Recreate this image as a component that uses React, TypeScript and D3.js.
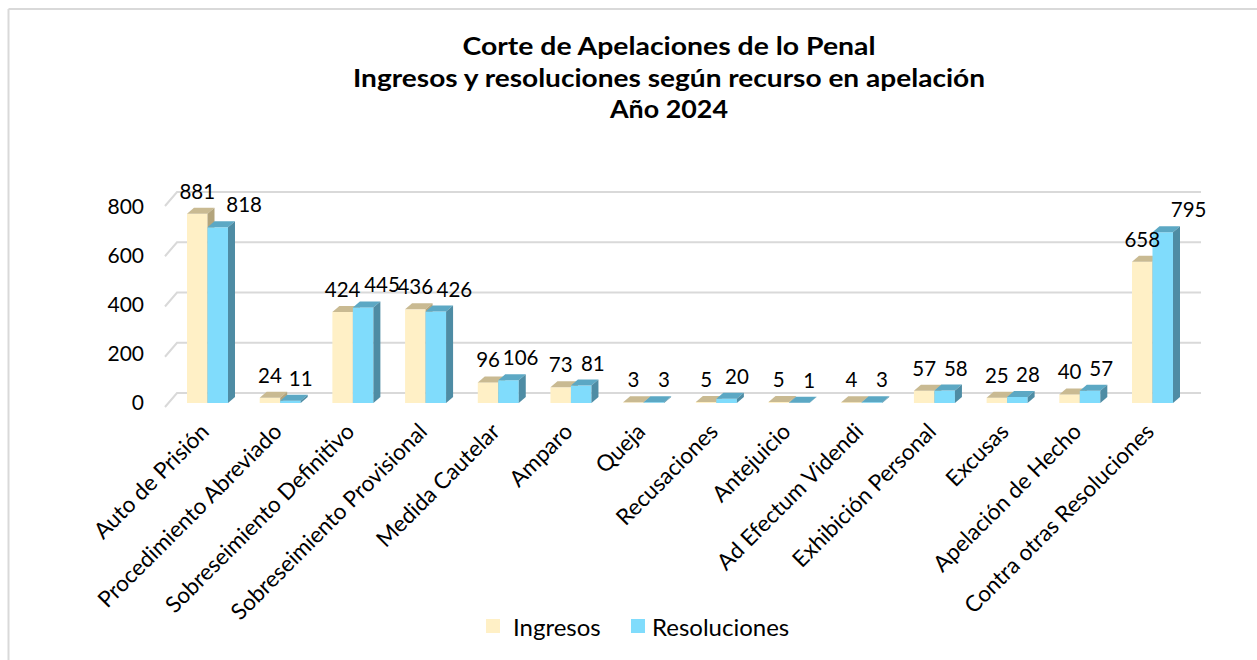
import React from "react";
import * as d3 from "d3";

const categories = [
  "Auto de Prisión",
  "Procedimiento Abreviado",
  "Sobreseimiento Definitivo",
  "Sobreseimiento Provisional",
  "Medida Cautelar",
  "Amparo",
  "Queja",
  "Recusaciones",
  "Antejuicio",
  "Ad Efectum Videndi",
  "Exhibición Personal",
  "Excusas",
  "Apelación de Hecho",
  "Contra otras Resoluciones",
];
const ingresos = [881, 24, 424, 436, 96, 73, 3, 5, 5, 4, 57, 25, 40, 658];
const resoluciones = [818, 11, 445, 426, 106, 81, 3, 20, 1, 3, 58, 28, 57, 795];
const yTicks = [0, 200, 400, 600, 800];
const seriesNames = ["Ingresos", "Resoluciones"];
const titleLines = [
  "Corte de Apelaciones de lo Penal",
  "Ingresos y resoluciones según recurso en apelación",
  "Año 2024",
];
const titleWidths = [413, 632, 118];

const W = 1257;
const H = 660;
const FONT = "Lato, 'Open Sans', sans-serif";

const colors = {
  ing: { front: "#FFF0C6", top: "#C9BA92", side: "#B3A47C" },
  res: { front: "#80DCFC", top: "#5CA8C4", side: "#4E8CA4" },
};

const DX = 7;
const DY = 6;
const BAR_W = 20.5;

export default function App() {
  const x = d3.scalePoint<string>().domain(categories).range([207.5, 1152.5]);
  const yBar = d3.scaleLinear().domain([0, 800]).range([403, 231.2]);
  const yLabel = d3.scaleLinear().domain([0, 800]).range([403, 207]);
  const yGrid = d3.scaleLinear().domain([0, 800]).range([393, 192]);

  const bar3d = (x0: number, v: number, c: { front: string; top: string; side: string }, key: string) => {
    const y0 = yBar(0);
    const y1 = yBar(v);
    const x1 = x0 + BAR_W;
    return (
      <g key={key}>
        <rect x={x0} y={y1} width={BAR_W} height={Math.max(0, y0 - y1)} fill={c.front} />
        <path
          d={`M${x0},${y1}L${x0 + DX},${y1 - DY}L${x1 + DX},${y1 - DY}L${x1},${y1}Z`}
          fill={c.top}
        />
        <path
          d={`M${x1},${y1}L${x1 + DX},${y1 - DY}L${x1 + DX},${y0 - DY}L${x1},${y0}Z`}
          fill={c.side}
        />
      </g>
    );
  };

  return (
    <div style={{ position: "absolute", left: 0, top: 0 }}>
      <svg width={W} height={H} style={{ display: "block", background: "#fff" }}>
        {/* frame */}
        <line x1={8.5} y1={9} x2={W} y2={9} stroke="#d9d9d9" strokeWidth={2} />
        <line x1={8.5} y1={9} x2={8.5} y2={H} stroke="#d9d9d9" strokeWidth={2} />

        {/* title */}
        {titleLines.map((t, i) => (
          <text
            key={t}
            x={669}
            y={55 + i * 31.5}
            textAnchor="middle"
            fontFamily={FONT}
            fontWeight="bold"
            fontSize={24}
            textLength={titleWidths[i]}
            lengthAdjust="spacingAndGlyphs"
            fill="#000"
          >
            {t}
          </text>
        ))}

        {/* gridlines on back wall */}
        {yTicks.map((t) => (
          <g key={t}>
            <path
              d={`M165,${yGrid(t) + 14}L177,${yGrid(t)}L1201,${yGrid(t)}`}
              fill="none"
              stroke="#d9d9d9"
              strokeWidth={2}
            />
            <text
              x={144}
              y={yLabel(t)}
              dy="0.35em"
              textAnchor="end"
              fontFamily={FONT}
              fontSize={21}
              fill="#000"
            >
              {t}
            </text>
          </g>
        ))}

        {/* bars */}
        {categories.map((c, i) => {
          const cx = x(c)!;
          return (
            <g key={c}>
              {bar3d(cx - BAR_W, ingresos[i], colors.ing, "i")}
              {bar3d(cx, resoluciones[i], colors.res, "r")}
            </g>
          );
        })}

        {/* data labels */}
        {categories.map((c, i) => {
          const cx = x(c)!;
          return (
            <g key={"l" + c} fontFamily={FONT} fontSize={20.5} fill="#000" textAnchor="middle">
              <text x={cx - BAR_W / 2} y={yBar(ingresos[i]) - 15}>
                {ingresos[i]}
              </text>
              <text x={cx + BAR_W / 2 + 10 + resoluciones[i] * 0.02} y={yBar(resoluciones[i]) - 15}>
                {resoluciones[i]}
              </text>
            </g>
          );
        })}

        {/* category labels */}
        {categories.map((c) => (
          <text
            key={"c" + c}
            transform={`translate(${x(c)! + 3},${433}) rotate(-45)`}
            textAnchor="end"
            fontFamily={FONT}
            fontSize={22.5}
            fill="#000"
          >
            {c}
          </text>
        ))}

        {/* legend */}
        <rect x={486} y={619} width={14} height={14} fill={colors.ing.front} />
        <text x={513} y={636} fontFamily={FONT} fontSize={24} fill="#000">
          {seriesNames[0]}
        </text>
        <rect x={631} y={619} width={14} height={14} fill={colors.res.front} />
        <text x={652} y={636} fontFamily={FONT} fontSize={24} fill="#000">
          {seriesNames[1]}
        </text>
      </svg>
    </div>
  );
}
